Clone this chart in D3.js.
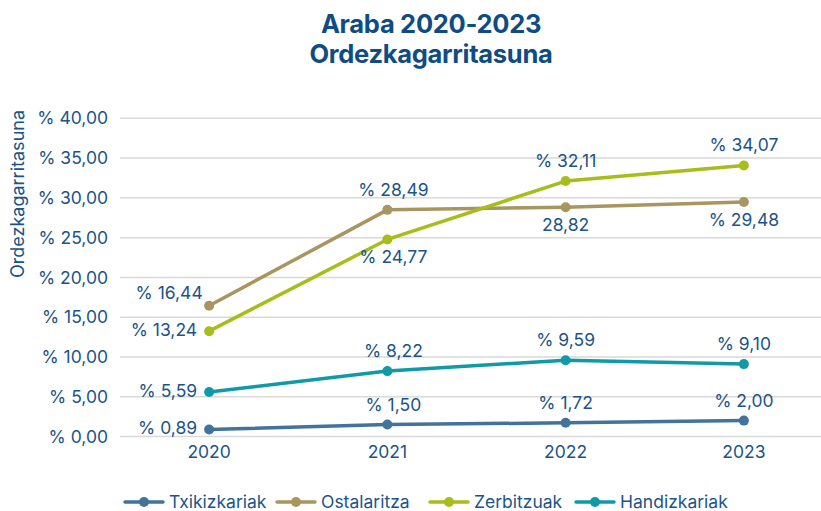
<!DOCTYPE html>
<html>
<head>
<meta charset="utf-8">
<script src="https://cdn.jsdelivr.net/npm/d3@7"></script>
<style>
  body { margin: 0; background: #fff; }
  svg { font-family: "Inter", "Roboto", sans-serif; display: block; }
</style>
</head>
<body>
<div id="chart"></div>
<script>
// chart data
var years = ["2020", "2021", "2022", "2023"];
var seriesNames = ["Txikizkariak", "Ostalaritza", "Zerbitzuak", "Handizkariak"];
var txikizkariak = [0.89, 1.50, 1.72, 2.00];
var ostalaritza = [16.44, 28.49, 28.82, 29.48];
var zerbitzuak = [13.24, 24.77, 32.11, 34.07];
var handizkariak = [5.59, 8.22, 9.59, 9.10];
var yTicks = [0, 5, 10, 15, 20, 25, 30, 35, 40];
// point labels as shown on the chart
var labelsTxiki = ["% 0,89", "% 1,50", "% 1,72", "% 2,00"];
var labelsOstal = ["% 16,44", "% 28,49", "28,82", "% 29,48"];
var labelsZerbi = ["% 13,24", "% 24,77", "% 32,11", "% 34,07"];
var labelsHandi = ["% 5,59", "% 8,22", "% 9,59", "% 9,10"];

var colors = ["#41739b", "#a8955f", "#a6bd1c", "#0f9aa6"];
var textColor = "#1b5487";
var fs = "17.5px";

var width = 821, height = 511;

var svg = d3.select("#chart").append("svg")
    .attr("width", width)
    .attr("height", height);

// scales
var x = d3.scaleBand()
    .domain(years)
    .range([120, 833]);

var y = d3.scaleLinear()
    .domain([0, 40])
    .range([436.5, 118.3]);

// title
svg.append("text")
    .attr("x", 431).attr("y", 33)
    .attr("text-anchor", "middle")
    .attr("fill", "#0f4c83")
    .style("font-size", "25.5px").style("font-weight", "700")
    .style("letter-spacing", "-0.3px")
    .text("Araba 2020-2023");
svg.append("text")
    .attr("x", 431).attr("y", 63)
    .attr("text-anchor", "middle")
    .attr("fill", "#0f4c83")
    .style("font-size", "25.5px").style("font-weight", "700")
    .style("letter-spacing", "-0.3px")
    .text("Ordezkagarritasuna");

// gridlines
svg.append("g")
    .selectAll("line")
    .data(yTicks)
    .enter().append("line")
    .attr("x1", 120).attr("x2", 833)
    .attr("y1", function(d) { return y(d); })
    .attr("y2", function(d) { return y(d); })
    .attr("stroke", "#d9d9d9")
    .attr("stroke-width", 1.5);

// y axis
var yAxis = svg.append("g")
    .attr("transform", "translate(108,0)")
    .call(d3.axisLeft(y).tickValues(yTicks).tickSize(0)
        .tickFormat(function(d) { return "% " + d3.format(".2f")(d).replace(".", ","); }));
yAxis.select(".domain").remove();
yAxis.selectAll("text")
    .attr("fill", textColor)
    .attr("x", 0)
    .style("font-size", fs)
    .style("font-family", "Inter, Roboto, sans-serif");

// y axis title
svg.append("text")
    .attr("transform", "translate(24,194) rotate(-90)")
    .attr("text-anchor", "middle")
    .attr("fill", textColor)
    .style("font-size", "18px")
    .text("Ordezkagarritasuna");

// x axis
var xAxis = svg.append("g")
    .attr("transform", "translate(0," + y(0) + ")")
    .call(d3.axisBottom(x).tickSize(0).tickPadding(9));
xAxis.select(".domain").remove();
xAxis.selectAll("text")
    .attr("fill", textColor)
    .style("font-size", fs)
    .style("font-family", "Inter, Roboto, sans-serif");

// series
var series = [
    {name: seriesNames[0], values: txikizkariak, labels: labelsTxiki, color: colors[0],
     pos: ["left", "above", "above", "above"]},
    {name: seriesNames[1], values: ostalaritza, labels: labelsOstal, color: colors[1],
     pos: ["aboveleft", "above", "below", "below"]},
    {name: seriesNames[2], values: zerbitzuak, labels: labelsZerbi, color: colors[2],
     pos: ["left", "below", "above", "above"]},
    {name: seriesNames[3], values: handizkariak, labels: labelsHandi, color: colors[3],
     pos: ["left", "above", "above", "above"]}
];

var cx = function(i) { return x(years[i]) + x.bandwidth() / 2; };

var line = d3.line()
    .x(function(d, i) { return cx(i); })
    .y(function(d) { return y(d); });

series.forEach(function(s) {
    svg.append("path")
        .datum(s.values)
        .attr("d", line)
        .attr("fill", "none")
        .attr("stroke", s.color)
        .attr("stroke-width", 3.5)
        .attr("stroke-linejoin", "round");

    svg.selectAll(null)
        .data(s.values)
        .enter().append("circle")
        .attr("cx", function(d, i) { return cx(i); })
        .attr("cy", function(d) { return y(d); })
        .attr("r", 5)
        .attr("fill", s.color);
});

// data labels
series.forEach(function(s) {
    svg.selectAll(null)
        .data(s.values)
        .enter().append("text")
        .attr("fill", textColor)
        .style("font-size", fs)
        .attr("text-anchor", function(d, i) { return s.pos[i] == "left" ? "end" : "middle"; })
        .attr("x", function(d, i) {
            if (s.pos[i] == "left") return cx(i) - 12;
            if (s.pos[i] == "aboveleft") return cx(i) - 40;
            return cx(i) + (i == 1 ? 6 : 0);
        })
        .attr("y", function(d, i) {
            var p = s.pos[i];
            if (p == "left") return y(d) + 5;
            if (p == "aboveleft") return y(d) - 7;
            if (p == "above") return y(d) - 14;
            return y(d) + 24;
        })
        .text(function(d, i) { return s.labels[i]; });
});

// legend
var legendX = [125, 277, 430, 576];
var legend = svg.append("g")
    .selectAll("g")
    .data(series)
    .enter().append("g")
    .attr("transform", function(d, i) { return "translate(" + legendX[i] + ",502)"; });

legend.append("line")
    .attr("x1", 0).attr("x2", 38)
    .attr("stroke", function(d) { return d.color; })
    .attr("stroke-width", 3.5)
    .attr("stroke-linecap", "round");
legend.append("circle")
    .attr("cx", 19).attr("r", 5)
    .attr("fill", function(d) { return d.color; });
legend.append("text")
    .attr("x", 44).attr("y", 6)
    .attr("fill", textColor)
    .style("font-size", fs)
    .text(function(d) { return d.name; });
</script>
</body>
</html>
